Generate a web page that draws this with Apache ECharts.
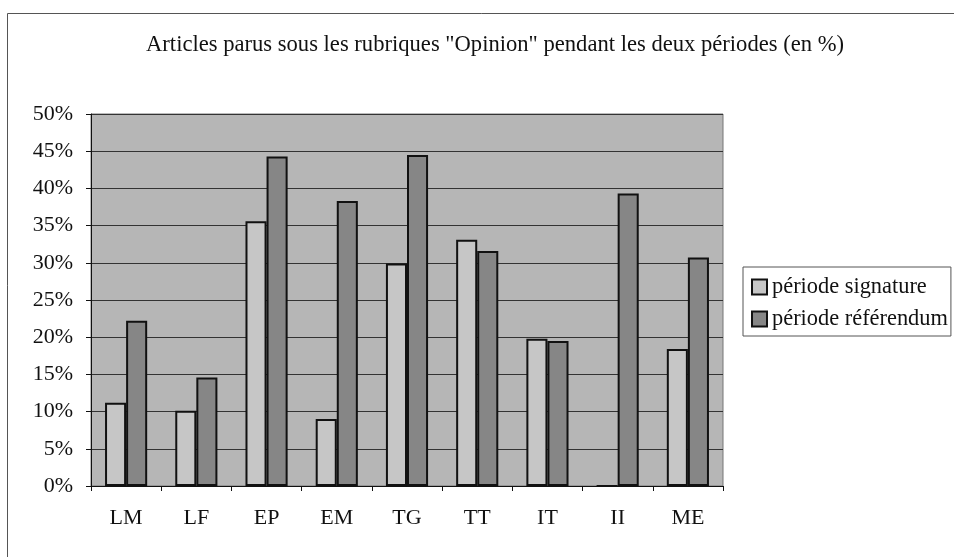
<!DOCTYPE html>
<html>
<head>
<meta charset="utf-8">
<script src="https://cdn.jsdelivr.net/npm/echarts@6/dist/echarts.min.js"></script>
<style>
html, body { margin: 0; padding: 0; background: #fff; }
#chart { width: 954px; height: 557px; }
</style>
</head>
<body>
<div id="chart"></div>
<script>
// données
var journaux = ['LM', 'LF', 'EP', 'EM', 'TG', 'TT', 'IT', 'II', 'ME'];
var periodeSignature = [11.2, 10.1, 35.6, 9.0, 29.9, 33.1, 19.8, 0, 18.4];
var periodeReferendum = [22.2, 14.6, 44.3, 38.3, 44.5, 31.6, 19.5, 39.3, 30.7];
var ticksY = [0, 5, 10, 15, 20, 25, 30, 35, 40, 45, 50];

var police = 'Liberation Serif, Times New Roman, serif';

var myChart = echarts.init(document.getElementById('chart'));

var option = {
    backgroundColor: '#fff',
    animation: false,
    title: {
        text: 'Articles parus sous les rubriques "Opinion" pendant les deux périodes (en %)',
        left: 490,
        textAlign: 'center',
        top: 29,
        textStyle: { fontFamily: police, fontSize: 22.6, fontWeight: 'normal', color: '#111' }
    },
    // cadre extérieur
    graphic: [{
        type: 'rect',
        shape: { x: 7.5, y: 13.5, width: 960, height: 560 },
        style: { fill: 'none', stroke: '#555', lineWidth: 1 },
        silent: true
    }],
    legend: {
        orient: 'vertical',
        left: 743,
        top: 267,
        padding: [9, 3, 6, 8],
        itemGap: 10,
        itemWidth: 15,
        itemHeight: 15,
        borderColor: '#555',
        borderWidth: 1,
        icon: 'rect',
        textStyle: { fontFamily: police, fontSize: 22.4, color: '#111' },
        data: ['période signature', 'période référendum']
    },
    grid: {
        left: 91,
        right: 231,
        top: 114,
        bottom: 71,
        show: true,
        backgroundColor: '#b6b6b6',
        borderColor: '#777',
        borderWidth: 1
    },
    xAxis: {
        type: 'category',
        data: journaux,
        axisLine: { lineStyle: { color: '#111', width: 1 } },
        axisTick: { show: true, length: 5, lineStyle: { color: '#111' } },
        axisLabel: { fontFamily: police, fontSize: 22, color: '#111', margin: 21 }
    },
    yAxis: {
        type: 'value',
        min: ticksY[0],
        max: ticksY[ticksY.length - 1],
        interval: 5,
        axisLine: { show: true, lineStyle: { color: '#111', width: 1 } },
        axisTick: { show: true, length: 5, lineStyle: { color: '#111' } },
        axisLabel: {
            fontFamily: police, fontSize: 22, color: '#111', margin: 18,
            formatter: function (v) { return v + '%'; }
        },
        splitLine: { lineStyle: { color: '#333', width: 1 } }
    },
    series: [{
        name: 'période signature',
        type: 'bar',
        data: periodeSignature,
        barGap: '0%',
        barCategoryGap: '40%',
        itemStyle: { color: '#c6c6c6', borderColor: '#111', borderWidth: 2 }
    }, {
        name: 'période référendum',
        type: 'bar',
        data: periodeReferendum,
        itemStyle: { color: '#868686', borderColor: '#111', borderWidth: 2 }
    }]
};

myChart.setOption(option);
window.addEventListener('resize', function () {
    myChart.resize();
});
</script>
</body>
</html>
